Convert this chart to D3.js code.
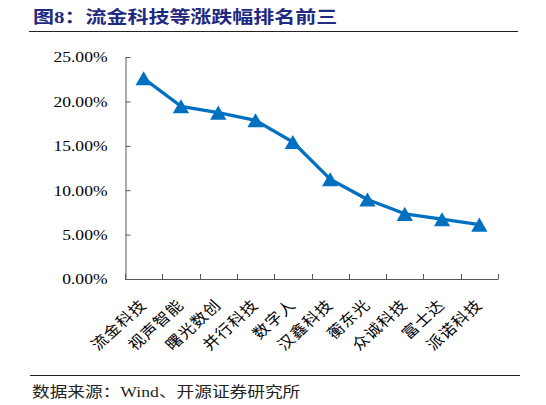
<!DOCTYPE html>
<html>
<head>
<meta charset="utf-8">
<script src="https://cdn.jsdelivr.net/npm/d3@7"></script>
<style>
  body { margin: 0; background: #fff; }
  svg { display: block; }
</style>
</head>
<body>
<svg width="546" height="405"></svg>
<script>
// données
const categories = ["流金科技", "视声智能", "曙光数创", "并行科技", "数字人", "汉鑫科技", "蘅东光", "众诚科技", "富士达", "派诺科技"];
const changes = [22.6, 19.45, 18.73, 17.87, 15.43, 11.24, 8.95, 7.34, 6.73, 6.12];
const yTicks = [0, 5, 10, 15, 20, 25];

const titleText = "图8：流金科技等涨跌幅排名前三";
const sourceText = "数据来源：Wind、开源证券研究所";

const serif = "'Liberation Serif', 'Noto Sans CJK SC', serif";
const stretch = 1.17; // le texte d'origine est étiré horizontalement

const svg = d3.select("svg");

// titre + filet
svg.append("text")
  .attr("transform", "translate(33,22.5) scale(1.2,1)")
  .attr("font-family", serif)
  .attr("font-size", "17.5px")
  .attr("font-weight", "700")
  .attr("fill", "#1f2a80")
  .text(titleText);

svg.append("line")
  .attr("x1", 29).attr("x2", 518)
  .attr("y1", 31.5).attr("y2", 31.5)
  .attr("stroke", "#222").attr("stroke-width", 1.2);

// zone du graphique
const x = d3.scaleBand().domain(categories).range([125, 498]).padding(0);
const y = d3.scaleLinear().domain([0, 25]).range([279, 57]);
const axisColor = "#595959";

// axe y
const yAxis = svg.append("g")
  .attr("transform", "translate(125.5,0)")
  .call(d3.axisLeft(y).tickValues(yTicks).tickSizeInner(-5).tickSizeOuter(0).tickPadding(18)
    .tickFormat(d => d.toFixed(2) + "%"));
yAxis.select(".domain").attr("stroke", axisColor);
yAxis.selectAll(".tick line").attr("stroke", axisColor);
yAxis.selectAll(".tick text")
  .attr("font-family", "'Liberation Serif', serif")
  .attr("font-size", "15px")
  .attr("fill", "#000")
  .attr("transform", "scale(" + stretch + ",1)")
  .attr("x", -18 / stretch);

// axe x : ligne + graduations entre les catégories
const xg = svg.append("g");
xg.append("line")
  .attr("x1", 125).attr("x2", 498)
  .attr("y1", 279.5).attr("y2", 279.5)
  .attr("stroke", axisColor);
const bounds = categories.map(c => x(c)).concat([x.range()[1]]);
xg.selectAll(".xtick").data(bounds).join("line")
  .attr("class", "xtick")
  .attr("x1", d => Math.round(d) + 0.5).attr("x2", d => Math.round(d) + 0.5)
  .attr("y1", 279.5).attr("y2", 274)
  .attr("stroke", axisColor);

xg.selectAll(".xlab").data(categories).join("text")
  .attr("class", "xlab")
  .attr("transform", d => "translate(" + (x(d) + x.bandwidth() / 2 + 4) + ",306) scale(1.1,1) rotate(-45)")
  .attr("text-anchor", "end")
  .attr("font-family", "'Noto Sans CJK SC', sans-serif")
  .attr("font-size", "15px")
  .attr("letter-spacing", "1px")
  .attr("fill", "#000")
  .text(d => d);

// courbe
const cx = (d, i) => x(categories[i]) + x.bandwidth() / 2;
const line = d3.line().x(cx).y(d => y(d));
svg.append("path")
  .datum(changes)
  .attr("d", line)
  .attr("fill", "none")
  .attr("stroke", "#0070c0")
  .attr("stroke-width", 3.3)
  .attr("stroke-linejoin", "round");

// marqueurs triangles
const triSize = 115;
const ry = Math.sqrt(triSize / (3 * Math.sqrt(3)));
svg.selectAll(".pt").data(changes).join("path")
  .attr("class", "pt")
  .attr("d", d3.symbol(d3.symbolTriangle, triSize))
  .attr("transform", (d, i) => "translate(" + cx(d, i) + "," + (y(d) + ry / 2) + ")")
  .attr("fill", "#0070c0");

// source
svg.append("line")
  .attr("x1", 30).attr("x2", 520)
  .attr("y1", 375.5).attr("y2", 375.5)
  .attr("stroke", "#222").attr("stroke-width", 1);

svg.append("text")
  .attr("transform", "translate(32,397) scale(1.22,1)")
  .attr("font-family", serif)
  .attr("font-size", "14.5px")
  .attr("fill", "#222")
  .text(sourceText);
</script>
</body>
</html>
